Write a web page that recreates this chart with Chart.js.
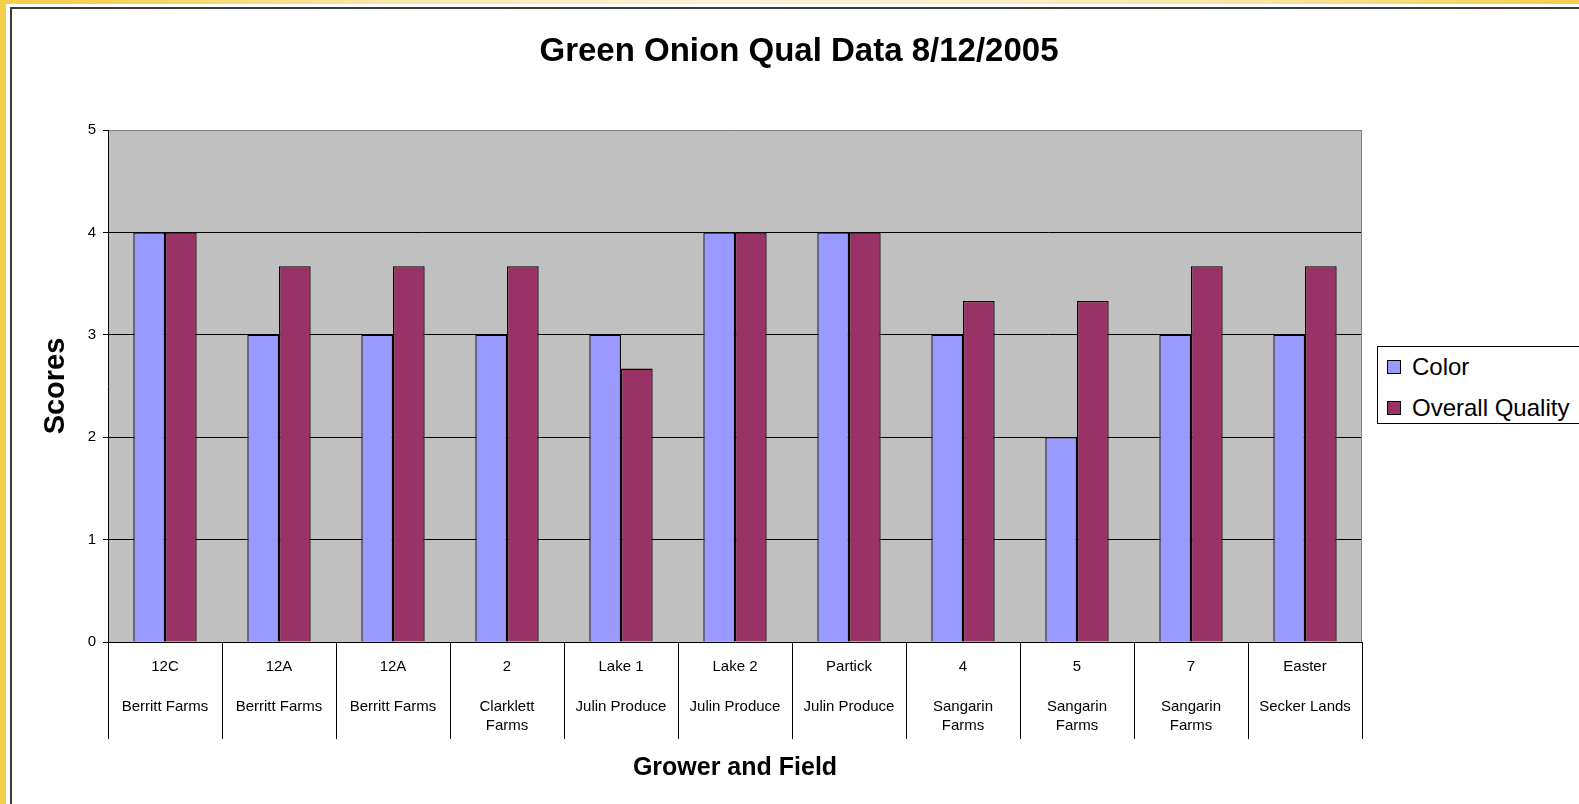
<!DOCTYPE html>
<html>
<head>
<meta charset="utf-8">
<title>Green Onion Qual Data 8/12/2005</title>
<script src="https://cdn.jsdelivr.net/npm/chart.js@4"></script>
<style>
  html, body { margin: 0; padding: 0; width: 1579px; height: 804px; overflow: hidden; background: #fff;
               font-family: "Liberation Sans", Arial, sans-serif; }
  #topband { position: absolute; left: 0; top: 0; width: 1579px; height: 4px;
             background: linear-gradient(to right, #f2cf48 0%, #f3d253 6%, #f9e6ac 25%, #fcf1d4 45%,
                                         #fbeec9 60%, #f8e3a0 80%, #f3d255 97%, #f2cf48 100%); }
  #leftband { position: absolute; left: 0; top: 0; width: 6px; height: 804px; background: #f2cf48; }
  #frame { position: absolute; left: 10px; top: 7px; width: 1600px; height: 820px;
           border-left: 2px solid #3a3a3a; border-top: 2px solid #3a3a3a; }
  #wrap { position: absolute; left: 12px; top: 9px; width: 1574px; height: 795px; }
  #legend { position: absolute; left: 1377px; top: 346px; width: 240px; height: 76px;
            border: 1px solid #000; background: #fff; }
  .item { position: absolute; left: 0; height: 28px; white-space: nowrap; }
  .sw { position: absolute; left: 9px; top: 7px; width: 12px; height: 12px; border: 1px solid #000; }
  .txt { position: absolute; left: 34px; top: 0; font-size: 24px; line-height: 28px; color: #000; }
</style>
</head>
<body>
<div id="topband"></div>
<div id="leftband"></div>
<div id="frame"></div>
<div id="wrap"><canvas id="chart" width="1574" height="795"></canvas></div>
<div id="legend"></div>
<script>
// fields (first label line) and growers (second line, may wrap)
const fields = ["12C", "12A", "12A", "2", "Lake 1", "Lake 2", "Partick", "4", "5", "7", "Easter"];
const growers = [
    ["Berritt Farms"], ["Berritt Farms"], ["Berritt Farms"], ["Clarklett", "Farms"],
    ["Julin Produce"], ["Julin Produce"], ["Julin Produce"], ["Sangarin", "Farms"],
    ["Sangarin", "Farms"], ["Sangarin", "Farms"], ["Secker Lands"]
];
const colorScores = [4, 3, 3, 3, 3, 4, 4, 3, 2, 3, 3];
const qualityScores = [4, 3.67, 3.67, 3.67, 2.67, 4, 4, 3.33, 3.33, 3.67, 3.67];
const yTicks = [0, 1, 2, 3, 4, 5];

const font = "'Liberation Sans', Arial, sans-serif";

const labels = fields.map((f, i) => [f, ""].concat(growers[i]));

const datasets = [
    { label: "Color", data: colorScores, backgroundColor: "#9999ff" },
    { label: "Overall Quality", data: qualityScores, backgroundColor: "#993366" }
];
datasets.forEach(d => {
    d.borderColor = "#000";
    d.borderWidth = 1.3;
    d.categoryPercentage = 1 / 1.8;
    d.barPercentage = 1;
});

// gray plot area like the old spreadsheet charts
const plotBackground = {
    id: "plotBackground",
    beforeDraw(chart) {
        const { ctx, chartArea: a } = chart;
        ctx.save();
        ctx.fillStyle = "#c0c0c0";
        ctx.fillRect(a.left, a.top, a.right - a.left, a.bottom - a.top);
        ctx.restore();
    },
    afterDraw(chart) {
        const { ctx, chartArea: a } = chart;
        ctx.save();
        ctx.strokeStyle = "#808080";
        ctx.lineWidth = 1;
        ctx.beginPath();
        ctx.moveTo(Math.round(a.right) - 0.5, a.top);
        ctx.lineTo(Math.round(a.right) - 0.5, a.bottom);
        ctx.stroke();
        ctx.restore();
    }
};

new Chart(document.getElementById("chart"), {
    type: "bar",
    data: { labels: labels, datasets: datasets },
    plugins: [plotBackground],
    options: {
        responsive: false,
        animation: false,
        devicePixelRatio: 1,
        layout: { padding: 0 },
        plugins: {
            legend: { display: false },
            tooltip: { enabled: false },
            title: {
                display: true,
                text: "Green Onion Qual Data 8/12/2005",
                color: "#000",
                font: { family: font, size: 33, weight: "bold", lineHeight: 1.2 },
                padding: { top: 23.5, bottom: 57.9 }
            }
        },
        scales: {
            x: {
                grid: {
                    offset: true,
                    drawOnChartArea: false,
                    tickLength: 97,
                    color: "#000",
                    lineWidth: 1
                },
                border: { display: false },
                ticks: {
                    color: "#000",
                    padding: -82.5,
                    maxRotation: 0,
                    autoSkip: false,
                    font: { family: font, size: 15, lineHeight: 1.33 }
                },
                title: {
                    display: true,
                    text: "Grower and Field",
                    color: "#000",
                    font: { family: font, size: 25, weight: "bold", lineHeight: 1.2 },
                    padding: { top: 0, bottom: 21 }
                },
                afterFit: (scale) => { scale.height = 162; }
            },
            y: {
                min: yTicks[0],
                max: yTicks[yTicks.length - 1],
                afterBuildTicks: (scale) => { scale.ticks = yTicks.map(v => ({ value: v })); },
                grid: {
                    color: (c) => (c.tick && c.tick.value === 5 ? "#808080" : "#000"),
                    tickColor: "#000",
                    tickLength: 5,
                    lineWidth: 1
                },
                border: { color: "#000", width: 1 },
                ticks: {
                    color: "#000",
                    padding: 7,
                    font: { family: font, size: 15 }
                },
                title: {
                    display: true,
                    text: "Scores",
                    color: "#000",
                    font: { family: font, size: 29, weight: "bold", lineHeight: 1.2 },
                    padding: { top: 27, bottom: 0 }
                },
                afterFit: (scale) => { scale.width = 96; }
            },
            // empty box on the right that keeps room for the legend
            side: {
                type: "linear",
                position: "right",
                grid: { display: false },
                border: { display: false },
                ticks: { display: false },
                afterFit: (scale) => { scale.width = 224; }
            }
        }
    }
});

// legend box, partly cut off at the right edge as in the original
const legend = document.getElementById("legend");
datasets.forEach((d, i) => {
    const item = document.createElement("div");
    item.className = "item";
    item.style.top = (6 + i * 41) + "px";
    item.innerHTML = '<span class="sw" style="background:' + d.backgroundColor + '"></span>' +
                     '<span class="txt">' + d.label + '</span>';
    legend.appendChild(item);
});
</script>
</body>
</html>
